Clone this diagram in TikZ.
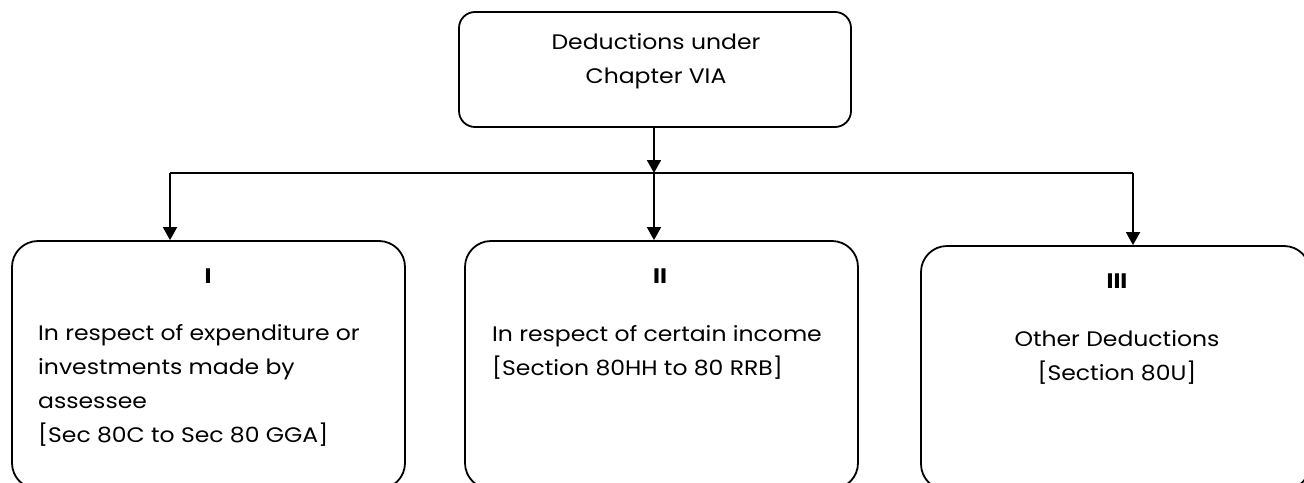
\documentclass[tikz,border=0pt]{standalone}
\usepackage{fontspec}
\setmainfont[FakeStretch=1.12]{Poppins}
\usetikzlibrary{arrows.meta}
\begin{document}
\begin{tikzpicture}[x=1pt,y=-1pt,
  box/.style={draw, line width=1.8pt, rounded corners=26pt, inner sep=0pt},
  topbox/.style={draw, line width=1.8pt, rounded corners=16pt, inner sep=0pt},
  conn/.style={line width=1.8pt},
  arr/.style={line width=1.8pt, -{Triangle[width=14pt,length=13pt]}},
  txt/.style={inner sep=0pt, font=\fontsize{21}{34}\selectfont},
  num/.style={inner sep=0pt, font=\fontsize{21}{24}\selectfont\bfseries}]
\useasboundingbox (0,0) rectangle (1304,482);
\node[topbox, minimum width=392pt, minimum height=115pt] (top) at (655,69.5) {};
\node[box, minimum width=393pt, minimum height=248pt] (b1) at (208.5,365) {};
\node[box, minimum width=393pt, minimum height=248pt] (b2) at (661.5,365) {};
\node[box, minimum width=389pt, minimum height=244pt] (b3) at (1115.5,368) {};
\coordinate (jm) at (654,173);
\coordinate (jl) at (170,173);
\coordinate (jr) at (1133,173);
\draw[arr] (top.south -| jm) -- (jm);
\draw[conn] (jl) -- (jr);
\draw[arr] (jl) -- (jl |- b1.north);
\draw[arr] (jm) -- (jm |- b2.north);
\draw[arr] (jr) -- (jr |- b3.north);
\node[txt, align=center, anchor=base] (toptext) at (656,83) {Deductions under\\Chapter VIA};
\node[num, anchor=base] (n1) at (208,283) {I};
\node[num, anchor=base] (n2) at (660,283) {II};
\node[num, anchor=base] (n3) at (1117,288) {III};
\node[txt, align=left, anchor=base west] (t1) at (38,442) {In respect of expenditure or\\investments made by\\assessee\\{[}Sec 80C to Sec 80 GGA{]}};
\node[txt, align=left, anchor=base west] (t2) at (492,375) {In respect of certain income\\{[}Section 80HH to 80 RRB{]}};
\node[txt, align=center, anchor=base] (t3) at (1117,380) {Other Deductions\\{[}Section 80U{]}};
\end{tikzpicture}
\end{document}
